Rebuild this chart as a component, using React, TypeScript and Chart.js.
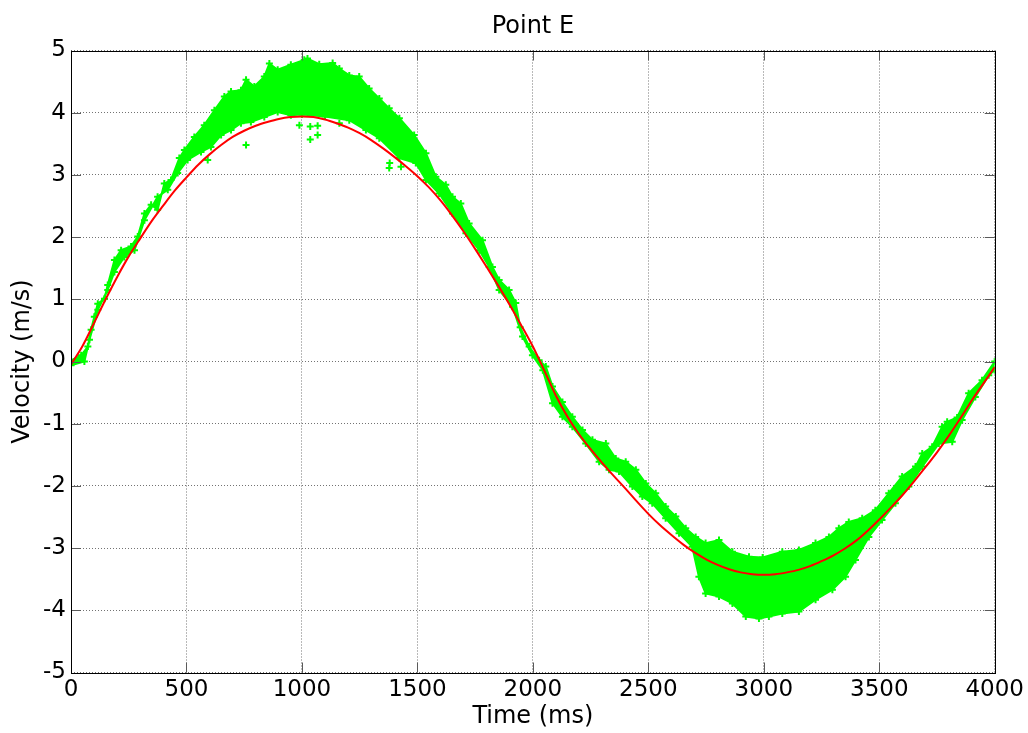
import React, { useEffect, useRef } from "react";
import { Chart, registerables } from "chart.js";

Chart.register(...registerables);

// ---- Data ----
const titleText = "Point E";
const xAxisTitle = "Time (ms)";
const yAxisTitle = "Velocity (m/s)";

const xTickValues = [0, 500, 1000, 1500, 2000, 2500, 3000, 3500, 4000];
const xTickLabels = ["0", "500", "1000", "1500", "2000", "2500", "3000", "3500", "4000"];
const yTickValues = [-5, -4, -3, -2, -1, 0, 1, 2, 3, 4, 5];
const yTickLabels = ["-5", "-4", "-3", "-2", "-1", "0", "1", "2", "3", "4", "5"];

// Red (model) curve
const redTime = [
  0, 50, 100, 150, 200, 250, 300, 350, 400, 450, 500, 550, 600, 650, 700, 750, 800, 850, 900, 950,
  1000, 1050, 1100, 1150, 1200, 1250, 1300, 1350, 1400, 1450, 1500, 1550, 1600, 1650, 1700, 1750,
  1800, 1850, 1900, 1950, 2000, 2050, 2100, 2150, 2200, 2250, 2300, 2350, 2400, 2450, 2500, 2550,
  2600, 2650, 2700, 2750, 2800, 2850, 2900, 2950, 3000, 3050, 3100, 3150, 3200, 3250, 3300, 3350,
  3400, 3450, 3500, 3550, 3600, 3650, 3700, 3750, 3800, 3850, 3900, 3950, 4000,
];
const redVel = [
  -0.05, 0.25, 0.62, 1.0, 1.36, 1.69, 1.98, 2.26, 2.51, 2.75, 2.96, 3.16, 3.33, 3.48, 3.61, 3.71,
  3.79, 3.85, 3.9, 3.93, 3.94, 3.93, 3.89, 3.83, 3.76, 3.67, 3.56, 3.43, 3.29, 3.14, 2.98, 2.8, 2.59,
  2.35, 2.09, 1.81, 1.52, 1.22, 0.91, 0.58, 0.24, -0.15, -0.55, -0.89, -1.17, -1.41, -1.63, -1.84,
  -2.04, -2.25, -2.45, -2.63, -2.79, -2.94, -3.07, -3.18, -3.27, -3.34, -3.39, -3.42, -3.43, -3.42,
  -3.39, -3.35, -3.29, -3.21, -3.12, -3.01, -2.88, -2.72, -2.54, -2.35, -2.15, -1.93, -1.7, -1.46,
  -1.2, -0.92, -0.63, -0.36, -0.09,
];

// Green (measured) cloud: upper edge
const greenUpperTime = [
  0, 44, 73, 87, 101, 116, 145, 159, 188, 217, 260, 289, 318, 347, 375, 404, 433, 469, 491, 534,
  577, 621, 664, 693, 736, 758, 794, 837, 859, 895, 952, 1010, 1024, 1075, 1133, 1162, 1205, 1248,
  1291, 1335, 1378, 1422, 1486, 1537, 1580, 1623, 1652, 1688, 1724, 1782, 1825, 1854, 1897, 1926,
  1945, 1984, 2027, 2056, 2085, 2128, 2171, 2215, 2258, 2316, 2359, 2402, 2446, 2489, 2532, 2575,
  2619, 2662, 2705, 2748, 2806, 2864, 2936, 2995, 3080, 3152, 3224, 3282, 3325, 3368, 3426, 3483,
  3541, 3599, 3657, 3686, 3729, 3772, 3794, 3837, 3887, 3945, 4000,
];
const greenUpperVel = [
  0.02, 0.1, 0.24, 0.51, 0.72, 0.93, 1.01, 1.23, 1.63, 1.79, 1.85, 2.01, 2.38, 2.52, 2.44, 2.86,
  2.92, 3.27, 3.4, 3.61, 3.8, 4.04, 4.26, 4.34, 4.36, 4.53, 4.42, 4.58, 4.79, 4.69, 4.77, 4.85, 4.87,
  4.78, 4.8, 4.71, 4.6, 4.58, 4.39, 4.23, 4.07, 3.91, 3.64, 3.35, 2.97, 2.84, 2.65, 2.54, 2.22, 1.95,
  1.52, 1.31, 1.15, 0.94, 0.55, 0.24, 0.02, -0.08, -0.4, -0.65, -0.89, -1.1, -1.26, -1.32, -1.56,
  -1.61, -1.74, -1.96, -2.12, -2.33, -2.49, -2.68, -2.82, -2.92, -2.87, -3.06, -3.14, -3.15, -3.06,
  -3.03, -2.92, -2.82, -2.68, -2.58, -2.52, -2.39, -2.12, -1.85, -1.69, -1.48, -1.37, -1.05, -0.97,
  -0.9, -0.51, -0.3, 0.0,
];

// Green (measured) cloud: lower edge
const greenLowerTime = [
  0, 58, 80, 116, 159, 188, 231, 275, 318, 375, 419, 462, 505, 563, 606, 650, 693, 736, 779, 837,
  895, 952, 1000, 1100, 1205, 1277, 1335, 1422, 1493, 1537, 1594, 1652, 1710, 1768, 1811, 1854,
  1912, 1955, 1998, 2043, 2085, 2128, 2171, 2229, 2287, 2330, 2373, 2431, 2474, 2517, 2575, 2633,
  2690, 2719, 2748, 2806, 2864, 2922, 2979, 3022, 3080, 3152, 3224, 3297, 3354, 3397, 3455, 3512,
  3570, 3628, 3686, 3758, 3816, 3859, 3916, 3974, 4000,
];
const greenLowerVel = [
  -0.06, 0.0, 0.35, 0.83, 1.15, 1.44, 1.68, 1.79, 2.27, 2.65, 2.76, 3.03, 3.24, 3.37, 3.45, 3.64,
  3.72, 3.83, 3.85, 3.93, 4.01, 3.96, 3.97, 3.94, 3.88, 3.72, 3.59, 3.27, 3.19, 2.92, 2.7, 2.38, 2.06,
  1.79, 1.52, 1.15, 0.88, 0.4, 0.1, -0.14, -0.67, -0.89, -1.05, -1.32, -1.61, -1.74, -1.77, -2.01,
  -2.17, -2.28, -2.52, -2.76, -2.98, -3.46, -3.73, -3.78, -3.89, -4.1, -4.13, -4.1, -4.05, -4.02,
  -3.83, -3.67, -3.46, -3.19, -2.82, -2.55, -2.28, -2.01, -1.69, -1.32, -1.29, -0.94, -0.57, -0.22,
  -0.14,
];

// Isolated green points outside the main band
const greenOutlierTime = [592, 758, 989, 1036, 1036, 1068, 1068, 1162, 1378, 1380, 1429];
const greenOutlierVel = [3.24, 3.48, 3.8, 3.57, 3.78, 3.64, 3.79, 3.83, 3.11, 3.19, 3.13];

const FONT = "'DejaVu Sans', Verdana, sans-serif";
const GREEN = "#00ff00";
const RED = "#ff0000";

const toXY = (xs: number[], ys: number[]) => xs.map((x, i) => ({ x, y: ys[i] }));

const titlePlugin = {
  id: "centeredTitle",
  afterDraw(chart: any) {
    const { ctx, chartArea: a } = chart;
    ctx.save();
    ctx.fillStyle = "#000";
    ctx.font = `24px ${FONT}`;
    ctx.textAlign = "center";
    ctx.textBaseline = "alphabetic";
    ctx.fillText(titleText, (a.left + a.right) / 2, 33);
    ctx.restore();
  },
};

const boxPlugin = {
  id: "matlabBox",
  afterDatasetsDraw(chart: any) {
    const { ctx, chartArea: a, scales } = chart;
    const xs = scales.x;
    const ys = scales.y;
    ctx.save();
    ctx.strokeStyle = "#5a5a5a";
    ctx.lineWidth = 1;
    ctx.setLineDash([]);
    ctx.beginPath();
    for (const v of xTickValues) {
      const px = Math.round(xs.getPixelForValue(v)) + 0.5;
      ctx.moveTo(px, a.bottom);
      ctx.lineTo(px, a.bottom - 10);
      ctx.moveTo(px, a.top);
      ctx.lineTo(px, a.top + 10);
    }
    for (const v of yTickValues) {
      const py = Math.round(ys.getPixelForValue(v)) + 0.5;
      ctx.moveTo(a.left, py);
      ctx.lineTo(a.left + 10, py);
      ctx.moveTo(a.right, py);
      ctx.lineTo(a.right - 10, py);
    }
    ctx.stroke();
    ctx.strokeStyle = "#000000";
    ctx.strokeRect(
      Math.round(a.left) + 0.5,
      Math.round(a.top) + 0.5,
      Math.round(a.right) - Math.round(a.left),
      Math.round(a.bottom) - Math.round(a.top)
    );
    ctx.restore();
  },
};

export default function App() {
  const canvasRef = useRef<HTMLCanvasElement | null>(null);

  useEffect(() => {
    const canvas = canvasRef.current;
    if (!canvas) return;
    const pointStyleOpts = {
      pointStyle: "cross" as const,
      pointRadius: 3.5,
      pointBorderWidth: 2,
      pointBorderColor: GREEN,
      pointBackgroundColor: GREEN,
      pointHoverRadius: 3.5,
    };
    const chart = new Chart(canvas, {
      type: "line",
      data: {
        datasets: [
          {
            label: "model",
            data: toXY(redTime, redVel),
            borderColor: RED,
            borderWidth: 2,
            pointRadius: 0,
            cubicInterpolationMode: "monotone",
            fill: false,
            order: 0,
          },
          {
            label: "measured upper",
            data: toXY(greenUpperTime, greenUpperVel),
            borderColor: GREEN,
            borderWidth: 2,
            fill: false,
            order: 2,
            ...pointStyleOpts,
          },
          {
            label: "measured lower",
            data: toXY(greenLowerTime, greenLowerVel),
            borderColor: GREEN,
            backgroundColor: GREEN,
            borderWidth: 2,
            fill: "-1",
            order: 2,
            ...pointStyleOpts,
          },
          {
            label: "measured outliers",
            data: toXY(greenOutlierTime, greenOutlierVel),
            showLine: false,
            borderColor: GREEN,
            order: 3,
            ...pointStyleOpts,
          },
        ],
      },
      options: {
        animation: false,
        responsive: false,
        maintainAspectRatio: false,
        layout: { padding: { left: 0, right: 32, top: 50.5, bottom: 0 } },
        plugins: {
          legend: { display: false },
          tooltip: { enabled: false },
          title: { display: false },
        },
        scales: {
          x: {
            type: "linear",
            min: 0,
            max: 4000,
            afterBuildTicks: (scale: any) => {
              scale.ticks = xTickValues.map((v) => ({ value: v }));
            },
            afterFit: (scale: any) => {
              scale.height = 60.5;
            },
            ticks: {
              color: "#000",
              font: { family: FONT, size: 23 },
              padding: 4,
              maxRotation: 0,
              autoSkip: false,
              callback: (value: any) => {
                const i = xTickValues.indexOf(Number(value));
                return i >= 0 ? xTickLabels[i] : "";
              },
            },
            grid: { color: "rgba(0,0,0,0.55)", lineWidth: 1, drawTicks: false },
            border: { display: false, dash: [1, 2] },
            title: {
              display: true,
              text: xAxisTitle,
              color: "#000",
              font: { family: FONT, size: 24 },
              padding: { top: 0, bottom: 2 },
            },
          },
          y: {
            type: "linear",
            min: -5,
            max: 5,
            afterBuildTicks: (scale: any) => {
              scale.ticks = yTickValues.map((v) => ({ value: v }));
            },
            afterFit: (scale: any) => {
              scale.width = 71;
            },
            ticks: {
              color: "#000",
              font: { family: FONT, size: 23 },
              padding: 5,
              autoSkip: false,
              callback: (value: any) => {
                const i = yTickValues.indexOf(Number(value));
                return i >= 0 ? yTickLabels[i] : "";
              },
            },
            grid: { color: "rgba(0,0,0,0.55)", lineWidth: 1, drawTicks: false },
            border: { display: false, dash: [1, 2] },
            title: {
              display: true,
              text: yAxisTitle,
              color: "#000",
              font: { family: FONT, size: 24 },
              padding: { top: 8, bottom: 0 },
            },
          },
        },
      },
      plugins: [boxPlugin, titlePlugin],
    } as any);
    return () => chart.destroy();
  }, []);

  return (
    <div
      style={{
        position: "fixed",
        left: 0,
        top: 0,
        width: 1028,
        height: 733,
        background: "#fff",
      }}
    >
      <canvas ref={canvasRef} width={1028} height={733} style={{ display: "block" }} />
    </div>
  );
}
